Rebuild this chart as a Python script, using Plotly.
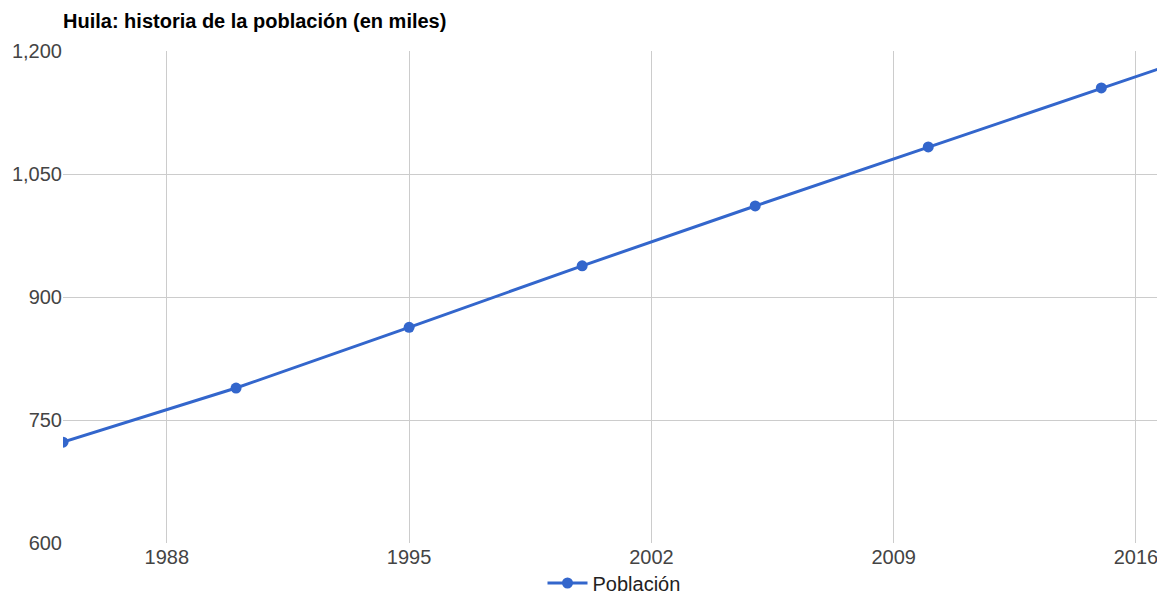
import plotly.graph_objects as go

years = [1985, 1990, 1995, 2000, 2005, 2010, 2015, 2020]
poblacion = [723, 789, 863, 938, 1011, 1083, 1155, 1226]
x_ticks = [1988, 1995, 2002, 2009, 2016]
y_ticks = [600, 750, 900, 1050, 1200]

W, H = 1157, 588
L, T, B = 55, 43, 53

fig = go.Figure()
fig.add_trace(go.Scatter(
    x=years, y=poblacion, mode="lines+markers", name="Población",
    line=dict(color="#3366cc", width=3),
    marker=dict(color="#3366cc", size=11),
))

fig.update_layout(
    width=W, height=H,
    margin=dict(l=L, r=0, t=T, b=B, autoexpand=False),
    paper_bgcolor="white", plot_bgcolor="white",
    font=dict(family="Liberation Sans, Arial, sans-serif", size=20, color="#444444"),
    title=dict(text="<b>Huila: historia de la población (en miles)</b>",
               x=L / W, xanchor="left", y=1 - 13 / H, yanchor="middle",
               font=dict(size=20, color="#000000")),
    showlegend=True,
    legend=dict(orientation="h", x=0.5, xanchor="center", yref="container",
                y=(H - 575) / H, yanchor="middle", itemwidth=40,
                font=dict(size=20, color="#222222")),
    xaxis=dict(range=[1985, 2016.84], tickvals=x_ticks, showgrid=True, automargin=False,
               gridcolor="#cccccc", gridwidth=1, zeroline=False, showline=False,
               ticks="", tickfont=dict(size=20, color="#444444")),
    yaxis=dict(range=[600, 1200], tickvals=y_ticks, tickformat=",", showgrid=True,
               automargin=False,
               gridcolor="#cccccc", gridwidth=1, zeroline=False, showline=False,
               ticks="", tickfont=dict(size=20, color="#444444")),
)

fig.write_html("out.html")
